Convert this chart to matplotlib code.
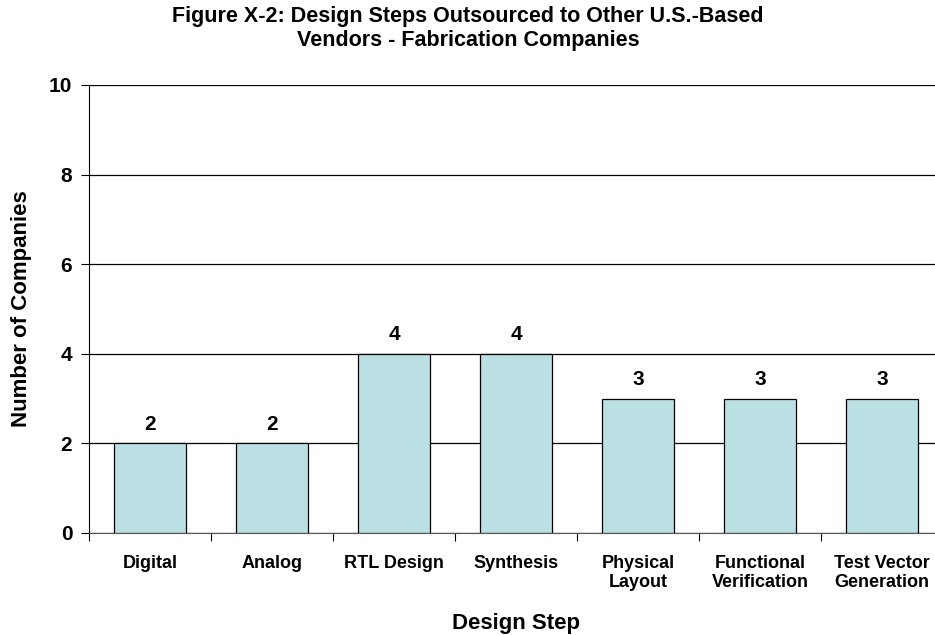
import matplotlib
matplotlib.use("Agg")
import matplotlib.pyplot as plt

steps = ["Digital", "Analog", "RTL Design", "Synthesis", "Physical\nLayout",
         "Functional\nVerification", "Test Vector\nGeneration"]
companies = [2, 2, 4, 4, 3, 3, 3]

plt.rcParams['font.family'] = ['Liberation Sans', 'DejaVu Sans']
plt.rcParams['font.weight'] = 'bold'

fig = plt.figure(figsize=(9.35, 6.35), dpi=100)
# plot area runs a little past the right edge, like the original
ax = fig.add_axes([89 / 935, 1 - 533 / 635, 854 / 935, 448 / 635])

x = list(range(len(steps)))
ax.bar(x, companies, width=0.59, color='#BBE0E3', edgecolor='black', linewidth=0.9, zorder=3)
for xi, v in zip(x, companies):
    ax.annotate(str(v), (xi, v), textcoords="offset points", xytext=(0, 7),
                ha='center', va='bottom', fontsize=15, fontweight='bold')

ax.set_xlim(-0.5, len(steps) - 0.5)
ax.set_ylim(0, 10)
ax.set_yticks([0, 2, 4, 6, 8, 10])
ax.set_xticks([i - 0.5 for i in range(len(steps) + 1)])
ax.set_xticklabels([])
ax.set_xticks(x, minor=True)
ax.set_xticklabels(steps, minor=True, fontsize=13, fontweight='bold', linespacing=1.15)
ax.tick_params(axis='x', which='minor', length=0, pad=16)
ax.tick_params(axis='x', which='major', direction='out', length=6, color='black')
ax.tick_params(axis='y', direction='out', length=6, labelsize=15, pad=6)
for lbl in ax.get_yticklabels():
    lbl.set_fontweight('bold')

ax.yaxis.grid(True, color='black', linewidth=0.9, zorder=0)
ax.spines['top'].set_visible(False)
ax.spines['right'].set_visible(False)
ax.spines['left'].set_color('black')
ax.spines['bottom'].set_color('#555555')

ax.set_xlabel('Design Step', fontsize=16, fontweight='bold', labelpad=16)
ax.set_ylabel('Number of Companies', fontsize=16, fontweight='bold', labelpad=12)
fig.suptitle('Figure X-2: Design Steps Outsourced to Other U.S.-Based\nVendors - Fabrication Companies',
             x=468 / 935, y=1 - 6 / 635, va='top', fontsize=15.5, fontweight='bold')

fig.savefig('out.png', dpi=100)
